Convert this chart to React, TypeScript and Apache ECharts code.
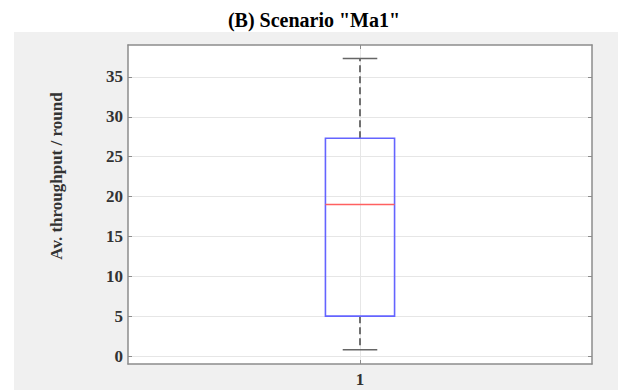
import React, { useEffect, useRef } from "react";
import * as echarts from "echarts";

const titleText = '(B) Scenario "Ma1"';
const yAxisName = "Av. throughput / round";
const categories = [1];
const categoryLabels = ["1"];
const whiskerLow = [0.8];
const q1 = [5];
const median = [19];
const q3 = [27.3];
const whiskerHigh = [37.3];
const yTicks = [0, 5, 10, 15, 20, 25, 30, 35];

const SERIF = "'Liberation Serif', 'Times New Roman', serif";
const AXIS_COLOR = "#8c8c8c";

export default function App() {
  const ref = useRef<HTMLDivElement>(null);
  useEffect(() => {
    if (!ref.current) return;
    const chart = echarts.init(ref.current, undefined, { renderer: "svg" });
    const data = categories.map((c, i) => [c, whiskerLow[i], q1[i], median[i], q3[i], whiskerHigh[i]]);
    const tickCommon = {
      inside: true,
      length: 4,
      lineStyle: { color: AXIS_COLOR, width: 1 },
    };
    chart.setOption({
      animation: false,
      backgroundColor: "#ffffff",
      graphic: [
        {
          type: "rect",
          z: -10,
          silent: true,
          shape: { x: 14, y: 32, width: 604, height: 358 },
          style: { fill: "#f0f0f0" },
        },
        {
          type: "text",
          x: 314,
          y: 20,
          style: {
            text: titleText,
            font: `bold 20px ${SERIF}`,
            fill: "#000",
            align: "center",
            verticalAlign: "middle",
          },
        },
        {
          type: "text",
          x: 56,
          y: 176,
          rotation: Math.PI / 2,
          style: {
            text: yAxisName,
            font: `bold 17px ${SERIF}`,
            fill: "#333",
            align: "center",
            verticalAlign: "middle",
          },
        },
      ],
      grid: {
        left: 128,
        right: 30,
        top: 45,
        bottom: 26,
        show: true,
        backgroundColor: "#ffffff",
        borderWidth: 0,
      },
      xAxis: [
        {
          type: "value",
          min: 0.5,
          max: 1.5,
          position: "bottom",
          axisLine: { show: true, onZero: false, lineStyle: { color: AXIS_COLOR, width: 1.5 } },
          axisTick: { ...tickCommon, customValues: categories },
          axisLabel: {
            customValues: categories,
            formatter: (v: number) => categoryLabels[categories.indexOf(v)] ?? "",
            fontFamily: SERIF,
            fontWeight: "bold",
            fontSize: 17,
            color: "#333",
            margin: 7,
          },
          splitLine: { show: true, lineStyle: { color: "#e6e6e6", width: 1 } },
        },
        {
          type: "value",
          min: 0.5,
          max: 1.5,
          position: "top",
          axisLine: { show: true, onZero: false, lineStyle: { color: AXIS_COLOR, width: 1.5 } },
          axisTick: { ...tickCommon, customValues: categories },
          axisLabel: { show: false },
          splitLine: { show: false },
        },
      ],
      yAxis: [
        {
          type: "value",
          min: -1,
          max: 39,
          position: "left",
          axisLine: { show: true, onZero: false, lineStyle: { color: AXIS_COLOR, width: 1.5 } },
          axisTick: { ...tickCommon, customValues: yTicks },
          axisLabel: {
            customValues: yTicks,
            fontFamily: SERIF,
            fontWeight: "bold",
            fontSize: 17,
            color: "#333",
            margin: 5,
          },
          splitLine: { show: true, lineStyle: { color: "#e6e6e6", width: 1 } },
        },
        {
          type: "value",
          min: -1,
          max: 39,
          position: "right",
          axisLine: { show: true, onZero: false, lineStyle: { color: AXIS_COLOR, width: 1.5 } },
          axisTick: { ...tickCommon, customValues: yTicks },
          axisLabel: { show: false },
          splitLine: { show: false },
        },
      ],
      series: [
        {
          type: "custom",
          xAxisIndex: 0,
          yAxisIndex: 0,
          encode: { x: 0, y: [1, 2, 3, 4, 5] },
          data,
          renderItem: (params: any, api: any) => {
            const x = api.value(0);
            const lo = api.coord([x, api.value(1)]);
            const b1 = api.coord([x, api.value(2)]);
            const md = api.coord([x, api.value(3)]);
            const b3 = api.coord([x, api.value(4)]);
            const hi = api.coord([x, api.value(5)]);
            const boxW = api.size([0.149, 0])[0];
            const half = boxW / 2;
            const capHalf = boxW / 4;
            const cx = lo[0];
            const dash = { stroke: "#707070", lineWidth: 2, lineDash: [7, 4] };
            const cap = { stroke: "#666666", lineWidth: 1.5 };
            return {
              type: "group",
              children: [
                { type: "line", shape: { x1: cx, y1: b3[1], x2: cx, y2: hi[1] }, style: dash },
                { type: "line", shape: { x1: cx, y1: b1[1], x2: cx, y2: lo[1] }, style: dash },
                { type: "line", shape: { x1: cx - capHalf, y1: hi[1], x2: cx + capHalf, y2: hi[1] }, style: cap },
                { type: "line", shape: { x1: cx - capHalf, y1: lo[1], x2: cx + capHalf, y2: lo[1] }, style: cap },
                {
                  type: "rect",
                  shape: { x: cx - half, y: b3[1], width: boxW, height: b1[1] - b3[1] },
                  style: { fill: "none", stroke: "#6464ff", lineWidth: 1.6 },
                },
                {
                  type: "line",
                  shape: { x1: cx - half, y1: md[1], x2: cx + half, y2: md[1] },
                  style: { stroke: "#ff6060", lineWidth: 1.5 },
                },
              ],
            };
          },
        },
      ],
    });
    return () => chart.dispose();
  }, []);
  return (
    <div
      ref={ref}
      style={{ position: "absolute", left: 0, top: 0, width: 622, height: 390 }}
    />
  );
}
